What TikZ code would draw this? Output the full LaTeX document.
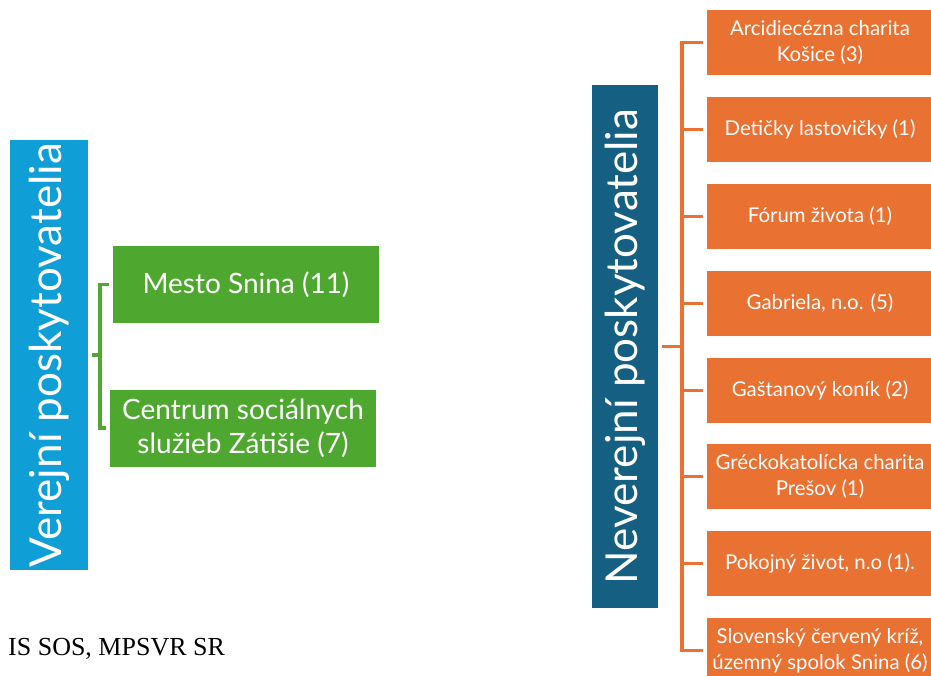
\documentclass[tikz,border=0pt]{standalone}
\usepackage{fontspec}
\setmainfont{Lato}
\newfontfamily\srcfont{Liberation Serif}
\definecolor{lblue}{HTML}{0F9ED5}
\definecolor{dblue}{HTML}{156082}
\definecolor{ogreen}{HTML}{4EA72E}
\definecolor{oorange}{HTML}{E97132}
\tikzset{
  catbox/.style={inner sep=0pt, text=white, minimum width=#1},
  greenbox/.style={fill=ogreen, inner sep=0pt, text=white, minimum width=266pt, minimum height=77pt, align=center, font=\fontsize{28}{34}\selectfont},
  orangebox/.style={fill=oorange, inner sep=0pt, text=white, minimum width=226pt, minimum height=65pt, align=center, font=\fontsize{20.4}{26}\selectfont},
  gline/.style={draw=ogreen, line width=3.5pt},
  oline/.style={draw=oorange, line width=3.5pt},
}
\begin{document}
\begin{tikzpicture}[x=1pt,y=-1pt]
\useasboundingbox (0,0) rectangle (931,676);
\clip (0,0) rectangle (931,676);
% left group
\node[fill=lblue, catbox=78pt, minimum height=430pt] (vp) at (49,355)
  {\rotatebox{90}{\fontsize{44}{44}\selectfont Verejní poskytovatelia}};
\node[greenbox] (g1) at (246,284.5) {Mesto Snina (11)};
\node[greenbox] (g2) at (243,428) {Centrum sociálnych\\služieb Zátišie (7)};
\coordinate (gj) at (100,355);
\draw[gline, shorten <=4pt] (vp.east) -- (gj);
\draw[gline, shorten <=4pt, shorten >=4pt] (g1.west) -- (gj |- g1.west) -- (gj |- g2.west) -- (g2.west);
% right group
\node[fill=dblue, catbox=66pt, minimum height=523pt] (np) at (625,346.5)
  {\rotatebox{90}{\fontsize{44}{44}\selectfont Neverejní poskytovatelia}};
\node[orangebox] (o1) at (820,42.5) {Arcidiecézna charita\\Košice (3)};
\node[orangebox] (o2) at (820,129.5) {Detičky lastovičky (1)};
\node[orangebox] (o3) at (820,216.5) {Fórum života (1)};
\node[orangebox] (o4) at (820,303.5) {Gabriela, n.o. (5)};
\node[orangebox] (o5) at (820,390.5) {Gaštanový koník (2)};
\node[orangebox] (o6) at (820,476.5) {Gréckokatolícka charita\\Prešov (1)};
\node[orangebox] (o7) at (820,563.5) {Pokojný život, n.o (1).};
\node[orangebox] (o8) at (820,650.5) {Slovenský červený kríž,\\územný spolok Snina (6)};
\coordinate (oj) at (682,346.5);
\draw[oline, shorten <=4pt] (np.east) -- (oj);
\draw[oline, shorten <=4pt, shorten >=4pt] (o1.west) -- (oj |- o1.west) -- (oj |- o8.west) -- (o8.west);
\foreach \i in {2,...,7} \draw[oline, shorten >=4pt] (oj |- o\i.west) -- (o\i.west);
% source
\node[anchor=base west, inner sep=0pt, font=\srcfont\fontsize{26}{26}\selectfont] (src) at (8,655) {IS SOS, MPSVR SR};
\end{tikzpicture}
\end{document}
